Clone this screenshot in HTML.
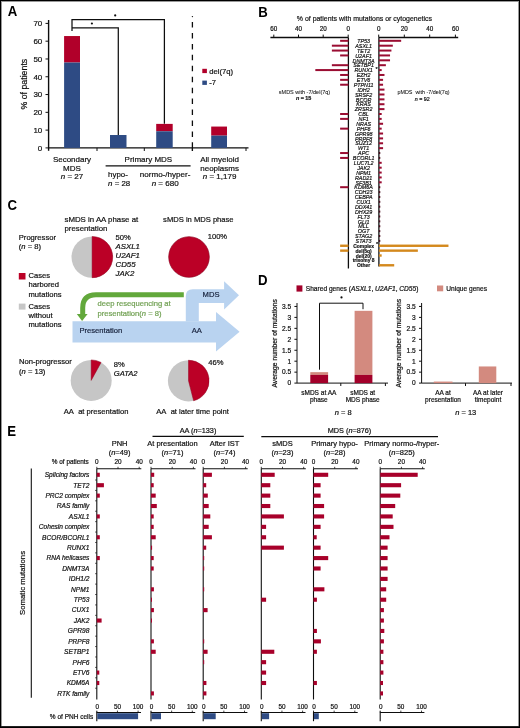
<!DOCTYPE html>
<html><head><meta charset="utf-8"><title>Figure</title>
<style>
html,body{margin:0;padding:0;background:#fff;}
#fig{position:relative;width:520px;height:728px;overflow:hidden;background:#fff;}
#fig svg{position:absolute;left:0;top:0;}
text{font-family:"Liberation Sans", sans-serif;}
</style></head>
<body><div id="fig">
<svg width="520" height="728" viewBox="0 0 520 728" font-family='"Liberation Sans", sans-serif' fill="#111">
<defs><filter id="soft" x="0" y="0" width="100%" height="100%" filterUnits="userSpaceOnUse"><feGaussianBlur stdDeviation="0.5"/></filter></defs>
<rect x="0" y="0" width="520" height="728" fill="#fff"/>
<g filter="url(#soft)">
<rect x="0" y="0" width="520" height="728" fill="#fff"/>
<text transform="translate(7.8,16.2) scale(0.93,1)" font-size="14.2" font-weight="bold" fill="#000">A</text>
<line x1="48.6" y1="20" x2="48.6" y2="150.8" stroke="#111" stroke-width="1.4"/>
<line x1="45.5" y1="147.9" x2="48.5" y2="147.9" stroke="#111" stroke-width="1"/>
<text x="42.3" y="150.74" font-size="8" text-anchor="end" stroke="#111" stroke-width="0.2">0</text>
<line x1="45.5" y1="130.11" x2="48.5" y2="130.11" stroke="#111" stroke-width="1"/>
<text x="42.3" y="132.95" font-size="8" text-anchor="end" stroke="#111" stroke-width="0.2">10</text>
<line x1="45.5" y1="112.33" x2="48.5" y2="112.33" stroke="#111" stroke-width="1"/>
<text x="42.3" y="115.17" font-size="8" text-anchor="end" stroke="#111" stroke-width="0.2">20</text>
<line x1="45.5" y1="94.54" x2="48.5" y2="94.54" stroke="#111" stroke-width="1"/>
<text x="42.3" y="97.38" font-size="8" text-anchor="end" stroke="#111" stroke-width="0.2">30</text>
<line x1="45.5" y1="76.76" x2="48.5" y2="76.76" stroke="#111" stroke-width="1"/>
<text x="42.3" y="79.6" font-size="8" text-anchor="end" stroke="#111" stroke-width="0.2">40</text>
<line x1="45.5" y1="58.97" x2="48.5" y2="58.97" stroke="#111" stroke-width="1"/>
<text x="42.3" y="61.81" font-size="8" text-anchor="end" stroke="#111" stroke-width="0.2">50</text>
<line x1="45.5" y1="41.18" x2="48.5" y2="41.18" stroke="#111" stroke-width="1"/>
<text x="42.3" y="44.02" font-size="8" text-anchor="end" stroke="#111" stroke-width="0.2">60</text>
<line x1="45.5" y1="23.4" x2="48.5" y2="23.4" stroke="#111" stroke-width="1"/>
<text x="42.3" y="26.24" font-size="8" text-anchor="end" stroke="#111" stroke-width="0.2">70</text>
<line x1="48.5" y1="147.9" x2="248.5" y2="147.9" stroke="#111" stroke-width="1.4"/>
<line x1="97" y1="147.9" x2="97" y2="151" stroke="#111" stroke-width="1"/>
<line x1="144.3" y1="147.9" x2="144.3" y2="151" stroke="#111" stroke-width="1"/>
<line x1="192.4" y1="147.9" x2="192.4" y2="151" stroke="#111" stroke-width="1"/>
<line x1="246" y1="147.9" x2="246" y2="151" stroke="#111" stroke-width="1"/>
<text transform="translate(27.4,84.2) rotate(-90)" font-size="8.8" text-anchor="middle" fill="#111" stroke="#111" stroke-width="0.2">% of patients</text>
<rect x="64.1" y="36.03" width="15.9" height="26.5" fill="#b10029"/>
<rect x="64.1" y="62.53" width="15.9" height="85.37" fill="#2e4c84"/>
<rect x="110" y="135.01" width="16.5" height="0" fill="#b10029"/>
<rect x="110" y="135.01" width="16.5" height="12.89" fill="#2e4c84"/>
<rect x="156.2" y="123.89" width="16.5" height="7.38" fill="#b10029"/>
<rect x="156.2" y="131.27" width="16.5" height="16.63" fill="#2e4c84"/>
<rect x="211.2" y="126.56" width="15.8" height="9.07" fill="#b10029"/>
<rect x="211.2" y="135.63" width="15.8" height="12.27" fill="#2e4c84"/>
<path d="M72 31 V19.5 H164.4 V123.8 M72 27.8 H118.3 V135" fill="none" stroke="#111" stroke-width="1.25"/>
<circle cx="115.2" cy="15.4" r="1.1" fill="#111"/><circle cx="91.9" cy="23.5" r="1.1" fill="#111"/>
<circle cx="192.4" cy="16.6" r="0.7" fill="#111"/>
<path d="M192.4 22 v5.5 M192.4 32.94 v5.5 M192.4 43.88 v5.5 M192.4 54.82 v5.5 M192.4 65.76 v5.5 M192.4 76.7 v5.5 M192.4 87.64 v5.5 M192.4 98.58 v5.5 M192.4 109.52 v5.5 M192.4 120.46 v5.5 M192.4 131.4 v5.5 M192.4 142.3 V151" stroke="#111" stroke-width="1.3" fill="none"/>
<rect x="202.3" y="68.8" width="4.6" height="4.3" fill="#b10029"/>
<rect x="202.3" y="80.6" width="4.6" height="4.3" fill="#2e4c84"/>
<text x="209.2" y="73.73" font-size="7.7" stroke="#111" stroke-width="0.2">del(7q)</text>
<text x="209.2" y="85.33" font-size="7.7" stroke="#111" stroke-width="0.2">-7</text>
<text x="72" y="161.84" font-size="8" text-anchor="middle" stroke="#111" stroke-width="0.2">Secondary</text>
<text x="72" y="170.64" font-size="8" text-anchor="middle" stroke="#111" stroke-width="0.2">MDS</text>
<text x="72" y="179.44" font-size="8" text-anchor="middle" stroke="#111" stroke-width="0.2"><tspan font-style="italic">n</tspan> = 27</text>
<text x="148.4" y="161.64" font-size="8" text-anchor="middle" stroke="#111" stroke-width="0.2">Primary MDS</text>
<line x1="105.6" y1="165.8" x2="190.6" y2="165.8" stroke="#111" stroke-width="1.2"/>
<text x="108.1" y="177.2" font-size="7.9" stroke="#111" stroke-width="0.2">hypo-</text>
<text x="108.1" y="186" font-size="7.9" stroke="#111" stroke-width="0.2"><tspan font-style="italic">n</tspan> = 28</text>
<text x="165.1" y="177.26" font-size="8.05" text-anchor="middle" stroke="#111" stroke-width="0.2">normo-/hyper-</text>
<text x="165.2" y="186.06" font-size="8.05" text-anchor="middle" stroke="#111" stroke-width="0.2"><tspan font-style="italic">n</tspan> = 680</text>
<text x="219.6" y="161.64" font-size="8" text-anchor="middle" stroke="#111" stroke-width="0.2">All myeloid</text>
<text x="219.6" y="170.64" font-size="8" text-anchor="middle" stroke="#111" stroke-width="0.2">neoplasms</text>
<text x="219.6" y="179.44" font-size="8" text-anchor="middle" stroke="#111" stroke-width="0.2"><tspan font-style="italic">n</tspan> = 1,179</text>
<text transform="translate(258.14,16.5) scale(0.93,1)" font-size="14.2" font-weight="bold" fill="#000">B</text>
<text transform="translate(296.8,21.1) scale(0.88,1)" font-size="7.9" stroke="#111" stroke-width="0.2">% of patients with mutations or cytogenetics</text>
<line x1="270.4" y1="37.6" x2="348.4" y2="37.6" stroke="#111" stroke-width="1.5"/>
<line x1="378.9" y1="37.6" x2="458.2" y2="37.6" stroke="#111" stroke-width="1.5"/>
<line x1="273.8" y1="34.6" x2="273.8" y2="37.6" stroke="#111" stroke-width="1"/>
<text x="273.8" y="31.44" font-size="6.3" text-anchor="middle" stroke="#111" stroke-width="0.2">60</text>
<line x1="298.5" y1="34.6" x2="298.5" y2="37.6" stroke="#111" stroke-width="1"/>
<text x="298.5" y="31.44" font-size="6.3" text-anchor="middle" stroke="#111" stroke-width="0.2">40</text>
<line x1="323.2" y1="34.6" x2="323.2" y2="37.6" stroke="#111" stroke-width="1"/>
<text x="323.2" y="31.44" font-size="6.3" text-anchor="middle" stroke="#111" stroke-width="0.2">20</text>
<line x1="348.2" y1="34.6" x2="348.2" y2="37.6" stroke="#111" stroke-width="1"/>
<text x="348.2" y="31.44" font-size="6.3" text-anchor="middle" stroke="#111" stroke-width="0.2">0</text>
<line x1="378.7" y1="34.6" x2="378.7" y2="37.6" stroke="#111" stroke-width="1"/>
<text x="378.7" y="31.44" font-size="6.3" text-anchor="middle" stroke="#111" stroke-width="0.2">0</text>
<line x1="404.3" y1="34.6" x2="404.3" y2="37.6" stroke="#111" stroke-width="1"/>
<text x="404.3" y="31.44" font-size="6.3" text-anchor="middle" stroke="#111" stroke-width="0.2">20</text>
<line x1="429.7" y1="34.6" x2="429.7" y2="37.6" stroke="#111" stroke-width="1"/>
<text x="429.7" y="31.44" font-size="6.3" text-anchor="middle" stroke="#111" stroke-width="0.2">40</text>
<line x1="455.4" y1="34.6" x2="455.4" y2="37.6" stroke="#111" stroke-width="1"/>
<text x="455.4" y="31.44" font-size="6.3" text-anchor="middle" stroke="#111" stroke-width="0.2">60</text>
<line x1="348.4" y1="37.6" x2="348.4" y2="268.5" stroke="#111" stroke-width="1.3"/>
<line x1="378.9" y1="37.6" x2="378.9" y2="266.5" stroke="#111" stroke-width="1.3"/>
<rect x="340.13" y="39.8" width="8.27" height="2" fill="#9a0a30"/>
<rect x="331.87" y="44.68" width="16.53" height="2" fill="#9a0a30"/>
<rect x="331.87" y="49.56" width="16.53" height="2" fill="#9a0a30"/>
<rect x="340.13" y="54.44" width="8.27" height="2" fill="#9a0a30"/>
<rect x="331.87" y="64.2" width="16.53" height="2" fill="#9a0a30"/>
<rect x="315.33" y="69.08" width="33.07" height="2" fill="#9a0a30"/>
<rect x="340.13" y="73.96" width="8.27" height="2" fill="#9a0a30"/>
<rect x="340.13" y="78.84" width="8.27" height="2" fill="#9a0a30"/>
<rect x="340.13" y="83.72" width="8.27" height="2" fill="#9a0a30"/>
<rect x="340.13" y="113" width="8.27" height="2" fill="#9a0a30"/>
<rect x="340.13" y="117.88" width="8.27" height="2" fill="#9a0a30"/>
<rect x="340.13" y="127.64" width="8.27" height="2" fill="#9a0a30"/>
<rect x="340.13" y="152.04" width="8.27" height="2" fill="#9a0a30"/>
<rect x="340.13" y="156.92" width="8.27" height="2" fill="#9a0a30"/>
<rect x="340.13" y="186.2" width="8.27" height="2" fill="#9a0a30"/>
<rect x="340.13" y="244.56" width="8.27" height="2.4" fill="#d4891f"/>
<rect x="340.13" y="249.44" width="8.27" height="2.4" fill="#d4891f"/>
<rect x="378.9" y="39.8" width="22.26" height="2" fill="#9a0a30"/>
<rect x="378.9" y="44.68" width="13.91" height="2" fill="#9a0a30"/>
<rect x="378.9" y="49.56" width="12.52" height="2" fill="#9a0a30"/>
<rect x="378.9" y="54.44" width="11.13" height="2" fill="#9a0a30"/>
<rect x="378.9" y="59.32" width="11.13" height="2" fill="#9a0a30"/>
<rect x="378.9" y="64.2" width="6.96" height="2" fill="#9a0a30"/>
<rect x="378.9" y="69.08" width="2.78" height="2" fill="#9a0a30"/>
<rect x="378.9" y="73.96" width="5.57" height="2" fill="#9a0a30"/>
<rect x="378.9" y="78.84" width="4.17" height="2" fill="#9a0a30"/>
<rect x="378.9" y="83.72" width="4.17" height="2" fill="#9a0a30"/>
<rect x="378.9" y="88.6" width="5.57" height="2" fill="#9a0a30"/>
<rect x="378.9" y="93.48" width="5.57" height="2" fill="#9a0a30"/>
<rect x="378.9" y="98.36" width="5.57" height="2" fill="#9a0a30"/>
<rect x="378.9" y="103.24" width="5.57" height="2" fill="#9a0a30"/>
<rect x="378.9" y="108.12" width="5.57" height="2" fill="#9a0a30"/>
<rect x="378.9" y="113" width="2.78" height="2" fill="#9a0a30"/>
<rect x="378.9" y="117.88" width="2.78" height="2" fill="#9a0a30"/>
<rect x="378.9" y="122.76" width="4.17" height="2" fill="#9a0a30"/>
<rect x="378.9" y="127.64" width="2.78" height="2" fill="#9a0a30"/>
<rect x="378.9" y="132.52" width="4.17" height="2" fill="#9a0a30"/>
<rect x="378.9" y="137.4" width="4.17" height="2" fill="#9a0a30"/>
<rect x="378.9" y="142.28" width="4.17" height="2" fill="#9a0a30"/>
<rect x="378.9" y="147.16" width="4.17" height="2" fill="#9a0a30"/>
<rect x="378.9" y="152.04" width="1.39" height="2" fill="#4a0c1c"/>
<rect x="378.9" y="156.92" width="1.39" height="2" fill="#4a0c1c"/>
<rect x="378.9" y="161.8" width="2.78" height="2" fill="#9a0a30"/>
<rect x="378.9" y="166.68" width="2.78" height="2" fill="#9a0a30"/>
<rect x="378.9" y="171.56" width="2.78" height="2" fill="#9a0a30"/>
<rect x="378.9" y="176.44" width="2.78" height="2" fill="#9a0a30"/>
<rect x="378.9" y="181.32" width="2.78" height="2" fill="#9a0a30"/>
<rect x="378.9" y="244.56" width="69.57" height="2.4" fill="#d4891f"/>
<rect x="378.9" y="249.44" width="38.96" height="2.4" fill="#d4891f"/>
<rect x="378.9" y="254.32" width="2.78" height="2.4" fill="#d4891f"/>
<rect x="378.9" y="264.08" width="15.3" height="2.4" fill="#d4891f"/>
<rect x="378.9" y="186.2" width="1.39" height="2" fill="#4a0c1c"/>
<rect x="378.9" y="191.08" width="1.39" height="2" fill="#4a0c1c"/>
<rect x="378.9" y="195.96" width="1.39" height="2" fill="#4a0c1c"/>
<rect x="378.9" y="200.84" width="1.39" height="2" fill="#4a0c1c"/>
<rect x="378.9" y="205.72" width="1.39" height="2" fill="#4a0c1c"/>
<rect x="378.9" y="210.6" width="1.39" height="2" fill="#4a0c1c"/>
<rect x="378.9" y="215.48" width="1.39" height="2" fill="#4a0c1c"/>
<rect x="378.9" y="220.36" width="1.39" height="2" fill="#4a0c1c"/>
<rect x="378.9" y="225.24" width="1.39" height="2" fill="#4a0c1c"/>
<rect x="378.9" y="230.12" width="1.39" height="2" fill="#4a0c1c"/>
<rect x="378.9" y="235" width="1.39" height="2" fill="#4a0c1c"/>
<rect x="378.9" y="239.88" width="1.39" height="2" fill="#4a0c1c"/>
<text transform="translate(363.6,43) scale(0.87,1)" font-size="6.2" text-anchor="middle" font-style="italic" stroke="#111" stroke-width="0.2">TP53</text>
<text transform="translate(363.6,47.88) scale(0.87,1)" font-size="6.2" text-anchor="middle" font-style="italic" stroke="#111" stroke-width="0.2">ASXL1</text>
<text transform="translate(363.6,52.76) scale(0.87,1)" font-size="6.2" text-anchor="middle" font-style="italic" stroke="#111" stroke-width="0.2">TET2</text>
<text transform="translate(363.6,57.64) scale(0.87,1)" font-size="6.2" text-anchor="middle" font-style="italic" stroke="#111" stroke-width="0.2">U2AF1</text>
<text transform="translate(363.6,62.52) scale(0.87,1)" font-size="6.2" text-anchor="middle" font-style="italic" stroke="#111" stroke-width="0.2">DNMT3A</text>
<text transform="translate(363.6,67.4) scale(0.87,1)" font-size="6.2" text-anchor="middle" font-style="italic" stroke="#111" stroke-width="0.2">SETBP1</text>
<text transform="translate(363.6,72.28) scale(0.87,1)" font-size="6.2" text-anchor="middle" font-style="italic" stroke="#111" stroke-width="0.2">RUNX1</text>
<text transform="translate(363.6,77.16) scale(0.87,1)" font-size="6.2" text-anchor="middle" font-style="italic" stroke="#111" stroke-width="0.2">EZH2</text>
<text transform="translate(363.6,82.04) scale(0.87,1)" font-size="6.2" text-anchor="middle" font-style="italic" stroke="#111" stroke-width="0.2">ETV6</text>
<text transform="translate(363.6,86.92) scale(0.87,1)" font-size="6.2" text-anchor="middle" font-style="italic" stroke="#111" stroke-width="0.2">PTPN11</text>
<text transform="translate(363.6,91.8) scale(0.87,1)" font-size="6.2" text-anchor="middle" font-style="italic" stroke="#111" stroke-width="0.2">IDH2</text>
<text transform="translate(363.6,96.68) scale(0.87,1)" font-size="6.2" text-anchor="middle" font-style="italic" stroke="#111" stroke-width="0.2">SRSF2</text>
<text transform="translate(363.6,101.56) scale(0.87,1)" font-size="6.2" text-anchor="middle" font-style="italic" stroke="#111" stroke-width="0.2">BCOR</text>
<text transform="translate(363.6,106.44) scale(0.87,1)" font-size="6.2" text-anchor="middle" font-style="italic" stroke="#111" stroke-width="0.2">KRAS</text>
<text transform="translate(363.6,111.32) scale(0.87,1)" font-size="6.2" text-anchor="middle" font-style="italic" stroke="#111" stroke-width="0.2">ZRSR2</text>
<text transform="translate(363.6,116.2) scale(0.87,1)" font-size="6.2" text-anchor="middle" font-style="italic" stroke="#111" stroke-width="0.2">CBL</text>
<text transform="translate(363.6,121.08) scale(0.87,1)" font-size="6.2" text-anchor="middle" font-style="italic" stroke="#111" stroke-width="0.2">NF1</text>
<text transform="translate(363.6,125.96) scale(0.87,1)" font-size="6.2" text-anchor="middle" font-style="italic" stroke="#111" stroke-width="0.2">NRAS</text>
<text transform="translate(363.6,130.84) scale(0.87,1)" font-size="6.2" text-anchor="middle" font-style="italic" stroke="#111" stroke-width="0.2">PHF6</text>
<text transform="translate(363.6,135.72) scale(0.87,1)" font-size="6.2" text-anchor="middle" font-style="italic" stroke="#111" stroke-width="0.2">GPR98</text>
<text transform="translate(363.6,140.6) scale(0.87,1)" font-size="6.2" text-anchor="middle" font-style="italic" stroke="#111" stroke-width="0.2">PRPF8</text>
<text transform="translate(363.6,145.48) scale(0.87,1)" font-size="6.2" text-anchor="middle" font-style="italic" stroke="#111" stroke-width="0.2">SUZ12</text>
<text transform="translate(363.6,150.36) scale(0.87,1)" font-size="6.2" text-anchor="middle" font-style="italic" stroke="#111" stroke-width="0.2">WT1</text>
<text transform="translate(363.6,155.24) scale(0.87,1)" font-size="6.2" text-anchor="middle" font-style="italic" stroke="#111" stroke-width="0.2">APC</text>
<text transform="translate(363.6,160.12) scale(0.87,1)" font-size="6.2" text-anchor="middle" font-style="italic" stroke="#111" stroke-width="0.2">BCORL1</text>
<text transform="translate(363.6,165) scale(0.87,1)" font-size="6.2" text-anchor="middle" font-style="italic" stroke="#111" stroke-width="0.2">LUC7L2</text>
<text transform="translate(363.6,169.88) scale(0.87,1)" font-size="6.2" text-anchor="middle" font-style="italic" stroke="#111" stroke-width="0.2">JAK2</text>
<text transform="translate(363.6,174.76) scale(0.87,1)" font-size="6.2" text-anchor="middle" font-style="italic" stroke="#111" stroke-width="0.2">NPM1</text>
<text transform="translate(363.6,179.64) scale(0.87,1)" font-size="6.2" text-anchor="middle" font-style="italic" stroke="#111" stroke-width="0.2">RAD21</text>
<text transform="translate(363.6,184.52) scale(0.87,1)" font-size="6.2" text-anchor="middle" font-style="italic" stroke="#111" stroke-width="0.2">SF3B1</text>
<text transform="translate(363.6,189.4) scale(0.87,1)" font-size="6.2" text-anchor="middle" font-style="italic" stroke="#111" stroke-width="0.2">KDM6A</text>
<text transform="translate(363.6,194.28) scale(0.87,1)" font-size="6.2" text-anchor="middle" font-style="italic" stroke="#111" stroke-width="0.2">CDH23</text>
<text transform="translate(363.6,199.16) scale(0.87,1)" font-size="6.2" text-anchor="middle" font-style="italic" stroke="#111" stroke-width="0.2">CEBPA</text>
<text transform="translate(363.6,204.04) scale(0.87,1)" font-size="6.2" text-anchor="middle" font-style="italic" stroke="#111" stroke-width="0.2">CUX1</text>
<text transform="translate(363.6,208.92) scale(0.87,1)" font-size="6.2" text-anchor="middle" font-style="italic" stroke="#111" stroke-width="0.2">DDX41</text>
<text transform="translate(363.6,213.8) scale(0.87,1)" font-size="6.2" text-anchor="middle" font-style="italic" stroke="#111" stroke-width="0.2">DHX29</text>
<text transform="translate(363.6,218.68) scale(0.87,1)" font-size="6.2" text-anchor="middle" font-style="italic" stroke="#111" stroke-width="0.2">FLT3</text>
<text transform="translate(363.6,223.56) scale(0.87,1)" font-size="6.2" text-anchor="middle" font-style="italic" stroke="#111" stroke-width="0.2">GLI1</text>
<text transform="translate(363.6,228.44) scale(0.87,1)" font-size="6.2" text-anchor="middle" font-style="italic" stroke="#111" stroke-width="0.2">MLL</text>
<text transform="translate(363.6,233.32) scale(0.87,1)" font-size="6.2" text-anchor="middle" font-style="italic" stroke="#111" stroke-width="0.2">OGT</text>
<text transform="translate(363.6,238.2) scale(0.87,1)" font-size="6.2" text-anchor="middle" font-style="italic" stroke="#111" stroke-width="0.2">STAG2</text>
<text transform="translate(363.6,243.08) scale(0.87,1)" font-size="6.2" text-anchor="middle" font-style="italic" stroke="#111" stroke-width="0.2">STAT3</text>
<text transform="translate(363.6,247.75) scale(0.88,1)" font-size="5.6" text-anchor="middle" font-weight="bold" stroke="#111" stroke-width="0.2">Complex</text>
<text transform="translate(363.6,252.63) scale(0.88,1)" font-size="5.6" text-anchor="middle" font-weight="bold" stroke="#111" stroke-width="0.2">del(5q)</text>
<text transform="translate(363.6,257.51) scale(0.88,1)" font-size="5.6" text-anchor="middle" font-weight="bold" stroke="#111" stroke-width="0.2">del(20)</text>
<text transform="translate(363.6,262.39) scale(0.88,1)" font-size="5.6" text-anchor="middle" font-weight="bold" stroke="#111" stroke-width="0.2">trisomy 8</text>
<text transform="translate(363.6,267.27) scale(0.88,1)" font-size="5.6" text-anchor="middle" font-weight="bold" stroke="#111" stroke-width="0.2">Other</text>
<text x="375.4" y="70.55" font-size="5.5" stroke="#111" stroke-width="0.2">*</text>
<text x="376" y="246.15" font-size="5.5" stroke="#111" stroke-width="0.2">*</text>
<text x="304.5" y="94.05" font-size="5.5" text-anchor="middle" stroke="#111" stroke-width="0.05">sMDS with -7/del(7q)</text>
<text x="303.6" y="100.32" font-size="5.4" text-anchor="middle" font-weight="bold" stroke="#111" stroke-width="0.2"><tspan font-style="italic">n</tspan> = 15</text>
<text x="423.5" y="94.02" font-size="5.4" text-anchor="middle" stroke="#111" stroke-width="0.05">pMDS&#160; with -7/del(7q)</text>
<text x="422.3" y="100.52" font-size="5.4" text-anchor="middle" stroke="#111" stroke-width="0.2"><tspan font-style="italic">n</tspan> = 92</text>
<text transform="translate(7.52,210.3) scale(0.93,1)" font-size="14.2" font-weight="bold" fill="#000">C</text>
<text x="64.5" y="222.19" font-size="7.85" stroke="#111" stroke-width="0.2">sMDS in AA phase at</text>
<text x="64.5" y="230.77" font-size="7.8" stroke="#111" stroke-width="0.2">presentation</text>
<text x="163.1" y="222.1" font-size="7.6" stroke="#111" stroke-width="0.2">sMDS in MDS phase</text>
<text x="18.8" y="240" font-size="7.6" stroke="#111" stroke-width="0.2">Progressor</text>
<text x="18.8" y="249.4" font-size="7.6" stroke="#111" stroke-width="0.2">(<tspan font-style="italic">n</tspan> = 8)</text>
<circle cx="92.1" cy="257.1" r="20.6" fill="#c6c6c6"/>
<path d="M92.1 257.1 L92.1 236.5 A20.6 20.6 0 0 1 92.1 277.7 Z" fill="#bb0028" stroke="#960420" stroke-width="0.5" stroke-linejoin="round"/>
<circle cx="189" cy="257" r="20.5" fill="#c6c6c6"/>
<circle cx="189" cy="257" r="20.3" fill="#bb0028" stroke="#960420" stroke-width="0.6"/>
<circle cx="91.2" cy="380.4" r="20.5" fill="#c6c6c6"/>
<path d="M91.2 380.4 L91.2 359.9 A20.5 20.5 0 0 1 101.08 362.44 Z" fill="#bb0028" stroke="#960420" stroke-width="0.5" stroke-linejoin="round"/>
<circle cx="188.5" cy="380.8" r="20.6" fill="#c6c6c6"/>
<path d="M188.5 380.8 L188.5 360.2 A20.6 20.6 0 0 1 193.62 400.75 Z" fill="#bb0028" stroke="#960420" stroke-width="0.5" stroke-linejoin="round"/>
<text x="115.5" y="239.6" font-size="7.6" stroke="#111" stroke-width="0.2">50%</text>
<text x="115.5" y="248.79" font-size="7.85" font-style="italic" stroke="#111" stroke-width="0.2">ASXL1</text>
<text x="115.5" y="257.99" font-size="7.85" font-style="italic" stroke="#111" stroke-width="0.2">U2AF1</text>
<text x="115.5" y="267.19" font-size="7.85" font-style="italic" stroke="#111" stroke-width="0.2">CD55</text>
<text x="115.5" y="276.39" font-size="7.85" font-style="italic" stroke="#111" stroke-width="0.2">JAK2</text>
<text x="207.7" y="238.8" font-size="7.6" stroke="#111" stroke-width="0.2">100%</text>
<rect x="18.8" y="273" width="6.7" height="6.5" fill="#bb0028"/>
<rect x="18.8" y="303.6" width="6.7" height="6" fill="#c6c6c6"/>
<text x="28.5" y="278.1" font-size="7.6" stroke="#111" stroke-width="0.2">Cases</text>
<text x="28.5" y="287.45" font-size="7.6" stroke="#111" stroke-width="0.2">harbored</text>
<text x="28.5" y="296.8" font-size="7.6" stroke="#111" stroke-width="0.2">mutations</text>
<text x="28.5" y="308.6" font-size="7.6" stroke="#111" stroke-width="0.2">Cases</text>
<text x="28.5" y="317.8" font-size="7.6" stroke="#111" stroke-width="0.2">without</text>
<text x="28.5" y="327" font-size="7.6" stroke="#111" stroke-width="0.2">mutations</text>
<path d="M72.5 321.3 H216 V312.1 L239.6 331.8 L216 351.6 V342.4 H72.5 Z" fill="#b9d3f0"/>
<path d="M185.8 321.5 V296.2 Q185.8 289.2 192.8 289.2 H224.1 V281.2 L239 295.3 L224.1 309.4 V303 H198.8 V321.5 Z" fill="#b9d3f0"/>
<text x="202.6" y="297.1" font-size="7.6" fill="#17223c" stroke="#17223c" stroke-width="0.2">MDS</text>
<text x="191.8" y="332.8" font-size="7.6" fill="#17223c" stroke="#17223c" stroke-width="0.2">AA</text>
<text x="79.5" y="333.1" font-size="7.6" fill="#17223c" stroke="#17223c" stroke-width="0.2">Presentation</text>
<path d="M183.8 294.8 H96 Q82.7 294.8 82.7 308 V314.5" fill="none" stroke="#62a83a" stroke-width="5"/>
<path d="M76.8 314 H87.6 L82.1 321 Z" fill="#62a83a"/>
<text x="97.5" y="306.3" font-size="7.6" fill="#70a052" stroke="#70a052" stroke-width="0.2">deep resequencing at</text>
<text x="97.5" y="315.6" font-size="7.6" fill="#70a052" stroke="#70a052" stroke-width="0.2">presentation(<tspan font-style="italic">n</tspan> = 8)</text>
<text x="19" y="364.4" font-size="7.6" stroke="#111" stroke-width="0.2">Non-progressor</text>
<text x="19" y="373.8" font-size="7.6" stroke="#111" stroke-width="0.2">(<tspan font-style="italic">n</tspan> = 13)</text>
<text x="113.8" y="366.8" font-size="7.6" stroke="#111" stroke-width="0.2">8%</text>
<text x="113.8" y="376" font-size="7.6" font-style="italic" stroke="#111" stroke-width="0.2">GATA2</text>
<text x="208.3" y="365.4" font-size="7.6" stroke="#111" stroke-width="0.2">46%</text>
<text x="63.8" y="414.3" font-size="7.6" stroke="#111" stroke-width="0.2">AA&#160; at presentation</text>
<text x="156.3" y="413.7" font-size="7.6" stroke="#111" stroke-width="0.2">AA&#160; at later time point</text>
<text transform="translate(257.94,284.9) scale(0.93,1)" font-size="14.2" font-weight="bold" fill="#000">D</text>
<rect x="296.5" y="285.4" width="5.9" height="6.2" fill="#a3002a"/>
<text x="305.8" y="290.84" font-size="6.6" stroke="#111" stroke-width="0.2">Shared genes (<tspan font-style="italic">ASXL1</tspan>, <tspan font-style="italic">U2AF1</tspan>, <tspan font-style="italic">CD55</tspan>)</text>
<rect x="437" y="285.5" width="6.2" height="5.8" fill="#d38a7f"/>
<text x="446.3" y="291.04" font-size="6.6" stroke="#111" stroke-width="0.2">Unique genes</text>
<line x1="297" y1="303" x2="297" y2="383.1" stroke="#111" stroke-width="1"/>
<line x1="294.4" y1="383.1" x2="297" y2="383.1" stroke="#111" stroke-width="1"/>
<text x="291.1" y="385.44" font-size="6.6" text-anchor="end" stroke="#111" stroke-width="0.2">0</text>
<line x1="294.4" y1="372.15" x2="297" y2="372.15" stroke="#111" stroke-width="1"/>
<text x="291.1" y="374.49" font-size="6.6" text-anchor="end" stroke="#111" stroke-width="0.2">0.5</text>
<line x1="294.4" y1="361.2" x2="297" y2="361.2" stroke="#111" stroke-width="1"/>
<text x="291.1" y="363.54" font-size="6.6" text-anchor="end" stroke="#111" stroke-width="0.2">1</text>
<line x1="294.4" y1="350.25" x2="297" y2="350.25" stroke="#111" stroke-width="1"/>
<text x="291.1" y="352.59" font-size="6.6" text-anchor="end" stroke="#111" stroke-width="0.2">1.5</text>
<line x1="294.4" y1="339.3" x2="297" y2="339.3" stroke="#111" stroke-width="1"/>
<text x="291.1" y="341.64" font-size="6.6" text-anchor="end" stroke="#111" stroke-width="0.2">2</text>
<line x1="294.4" y1="328.35" x2="297" y2="328.35" stroke="#111" stroke-width="1"/>
<text x="291.1" y="330.69" font-size="6.6" text-anchor="end" stroke="#111" stroke-width="0.2">2.5</text>
<line x1="294.4" y1="317.4" x2="297" y2="317.4" stroke="#111" stroke-width="1"/>
<text x="291.1" y="319.74" font-size="6.6" text-anchor="end" stroke="#111" stroke-width="0.2">3</text>
<line x1="294.4" y1="306.45" x2="297" y2="306.45" stroke="#111" stroke-width="1"/>
<text x="291.1" y="308.79" font-size="6.6" text-anchor="end" stroke="#111" stroke-width="0.2">3.5</text>
<line x1="421.6" y1="303" x2="421.6" y2="383.1" stroke="#111" stroke-width="1"/>
<line x1="419" y1="383.1" x2="421.6" y2="383.1" stroke="#111" stroke-width="1"/>
<text x="415.7" y="385.44" font-size="6.6" text-anchor="end" stroke="#111" stroke-width="0.2">0</text>
<line x1="419" y1="372.15" x2="421.6" y2="372.15" stroke="#111" stroke-width="1"/>
<text x="415.7" y="374.49" font-size="6.6" text-anchor="end" stroke="#111" stroke-width="0.2">0.5</text>
<line x1="419" y1="361.2" x2="421.6" y2="361.2" stroke="#111" stroke-width="1"/>
<text x="415.7" y="363.54" font-size="6.6" text-anchor="end" stroke="#111" stroke-width="0.2">1</text>
<line x1="419" y1="350.25" x2="421.6" y2="350.25" stroke="#111" stroke-width="1"/>
<text x="415.7" y="352.59" font-size="6.6" text-anchor="end" stroke="#111" stroke-width="0.2">1.5</text>
<line x1="419" y1="339.3" x2="421.6" y2="339.3" stroke="#111" stroke-width="1"/>
<text x="415.7" y="341.64" font-size="6.6" text-anchor="end" stroke="#111" stroke-width="0.2">2</text>
<line x1="419" y1="328.35" x2="421.6" y2="328.35" stroke="#111" stroke-width="1"/>
<text x="415.7" y="330.69" font-size="6.6" text-anchor="end" stroke="#111" stroke-width="0.2">2.5</text>
<line x1="419" y1="317.4" x2="421.6" y2="317.4" stroke="#111" stroke-width="1"/>
<text x="415.7" y="319.74" font-size="6.6" text-anchor="end" stroke="#111" stroke-width="0.2">3</text>
<line x1="419" y1="306.45" x2="421.6" y2="306.45" stroke="#111" stroke-width="1"/>
<text x="415.7" y="308.79" font-size="6.6" text-anchor="end" stroke="#111" stroke-width="0.2">3.5</text>
<line x1="297" y1="383.1" x2="388" y2="383.1" stroke="#111" stroke-width="1"/>
<line x1="340.8" y1="383.1" x2="340.8" y2="386" stroke="#111" stroke-width="1"/>
<line x1="385.4" y1="383.1" x2="385.4" y2="386" stroke="#111" stroke-width="1"/>
<line x1="421.6" y1="383.1" x2="512" y2="383.1" stroke="#111" stroke-width="1"/>
<line x1="465.5" y1="383.1" x2="465.5" y2="386" stroke="#111" stroke-width="1"/>
<line x1="511" y1="383.1" x2="511" y2="386" stroke="#111" stroke-width="1"/>
<text transform="translate(276.9,343.3) rotate(-90)" font-size="6.75" text-anchor="middle" fill="#111" stroke="#111" stroke-width="0.2">Average number of mutations</text>
<text transform="translate(401.3,343.2) rotate(-90)" font-size="6.75" text-anchor="middle" fill="#111" stroke="#111" stroke-width="0.2">Average number of mutations</text>
<rect x="310.3" y="372.15" width="17.8" height="2.74" fill="#d38a7f"/>
<rect x="310.3" y="374.89" width="17.8" height="8.21" fill="#a3002a"/>
<rect x="354.6" y="310.83" width="17.8" height="64.06" fill="#d38a7f"/>
<rect x="354.6" y="374.89" width="17.8" height="8.21" fill="#a3002a"/>
<rect x="433.8" y="381.57" width="18.7" height="1.53" fill="#d38a7f"/>
<rect x="478.8" y="366.46" width="17.5" height="16.64" fill="#d38a7f"/>
<path d="M319.5 369.7 V303.2 H363 V309.2" fill="none" stroke="#111" stroke-width="1"/>
<circle cx="341.5" cy="297.4" r="1.1" fill="#111"/>
<text x="318.8" y="395.01" font-size="6.5" text-anchor="middle" stroke="#111" stroke-width="0.2">sMDS at AA</text>
<text x="318.8" y="402.31" font-size="6.5" text-anchor="middle" stroke="#111" stroke-width="0.2">phase</text>
<text x="362.7" y="395.01" font-size="6.5" text-anchor="middle" stroke="#111" stroke-width="0.2">sMDS at</text>
<text x="362.7" y="402.31" font-size="6.5" text-anchor="middle" stroke="#111" stroke-width="0.2">MDS phase</text>
<text x="443" y="395.01" font-size="6.5" text-anchor="middle" stroke="#111" stroke-width="0.2">AA at</text>
<text x="443" y="402.31" font-size="6.5" text-anchor="middle" stroke="#111" stroke-width="0.2">presentation</text>
<text x="488" y="395.01" font-size="6.5" text-anchor="middle" stroke="#111" stroke-width="0.2">AA at later</text>
<text x="488" y="402.31" font-size="6.5" text-anchor="middle" stroke="#111" stroke-width="0.2">timepoint</text>
<text x="343.2" y="414.86" font-size="7.5" text-anchor="middle" stroke="#111" stroke-width="0.2"><tspan font-style="italic">n</tspan> = 8</text>
<text x="465.7" y="414.66" font-size="7.5" text-anchor="middle" stroke="#111" stroke-width="0.2"><tspan font-style="italic">n</tspan> = 13</text>
<text transform="translate(7.14,436.4) scale(0.93,1)" font-size="14.2" font-weight="bold" fill="#000">E</text>
<text x="198" y="433.09" font-size="7.3" text-anchor="middle" stroke="#111" stroke-width="0.2">AA (<tspan font-style="italic">n</tspan>=133)</text>
<line x1="152.5" y1="436.4" x2="243.8" y2="436.4" stroke="#111" stroke-width="1.2"/>
<text x="349.5" y="433.09" font-size="7.3" text-anchor="middle" stroke="#111" stroke-width="0.2">MDS (<tspan font-style="italic">n</tspan>=876)</text>
<line x1="261.3" y1="436.6" x2="438" y2="436.6" stroke="#111" stroke-width="1.2"/>
<text x="119.6" y="445.66" font-size="7.5" text-anchor="middle" stroke="#111" stroke-width="0.2">PNH</text>
<text x="119.6" y="454.86" font-size="7.5" text-anchor="middle" stroke="#111" stroke-width="0.2">(<tspan font-style="italic">n</tspan>=49)</text>
<text x="172.5" y="445.66" font-size="7.5" text-anchor="middle" stroke="#111" stroke-width="0.2">At presentation</text>
<text x="172.5" y="454.86" font-size="7.5" text-anchor="middle" stroke="#111" stroke-width="0.2">(<tspan font-style="italic">n</tspan>=71)</text>
<text x="224.5" y="445.66" font-size="7.5" text-anchor="middle" stroke="#111" stroke-width="0.2">After IST</text>
<text x="224.5" y="454.86" font-size="7.5" text-anchor="middle" stroke="#111" stroke-width="0.2">(<tspan font-style="italic">n</tspan>=74)</text>
<text x="282.5" y="445.66" font-size="7.5" text-anchor="middle" stroke="#111" stroke-width="0.2">sMDS</text>
<text x="282.5" y="454.86" font-size="7.5" text-anchor="middle" stroke="#111" stroke-width="0.2">(<tspan font-style="italic">n</tspan>=23)</text>
<text x="334.5" y="445.66" font-size="7.5" text-anchor="middle" stroke="#111" stroke-width="0.2">Primary hypo-</text>
<text x="334.5" y="454.86" font-size="7.5" text-anchor="middle" stroke="#111" stroke-width="0.2">(<tspan font-style="italic">n</tspan>=28)</text>
<text x="401.8" y="445.66" font-size="7.5" text-anchor="middle" stroke="#111" stroke-width="0.2">Primary normo-/hyper-</text>
<text x="401.8" y="454.86" font-size="7.5" text-anchor="middle" stroke="#111" stroke-width="0.2">(<tspan font-style="italic">n</tspan>=825)</text>
<text x="88.8" y="464.47" font-size="6.4" text-anchor="end" stroke="#111" stroke-width="0.2">% of patients</text>
<text x="89.4" y="477.14" font-size="6.6" text-anchor="end" font-style="italic" stroke="#111" stroke-width="0.2">Splicing factors</text>
<text x="89.4" y="487.55" font-size="6.6" text-anchor="end" font-style="italic" stroke="#111" stroke-width="0.2">TET2</text>
<text x="89.4" y="497.96" font-size="6.6" text-anchor="end" font-style="italic" stroke="#111" stroke-width="0.2">PRC2 complex</text>
<text x="89.4" y="508.37" font-size="6.6" text-anchor="end" font-style="italic" stroke="#111" stroke-width="0.2">RAS family</text>
<text x="89.4" y="518.78" font-size="6.6" text-anchor="end" font-style="italic" stroke="#111" stroke-width="0.2">ASXL1</text>
<text x="89.4" y="529.19" font-size="6.6" text-anchor="end" font-style="italic" stroke="#111" stroke-width="0.2">Cohesin complex</text>
<text x="89.4" y="539.6" font-size="6.6" text-anchor="end" font-style="italic" stroke="#111" stroke-width="0.2">BCOR/BCORL1</text>
<text x="89.4" y="550.01" font-size="6.6" text-anchor="end" font-style="italic" stroke="#111" stroke-width="0.2">RUNX1</text>
<text x="89.4" y="560.42" font-size="6.6" text-anchor="end" font-style="italic" stroke="#111" stroke-width="0.2">RNA helicases</text>
<text x="89.4" y="570.83" font-size="6.6" text-anchor="end" font-style="italic" stroke="#111" stroke-width="0.2">DNMT3A</text>
<text x="89.4" y="581.24" font-size="6.6" text-anchor="end" font-style="italic" stroke="#111" stroke-width="0.2">IDH1/2</text>
<text x="89.4" y="591.65" font-size="6.6" text-anchor="end" font-style="italic" stroke="#111" stroke-width="0.2">NPM1</text>
<text x="89.4" y="602.06" font-size="6.6" text-anchor="end" font-style="italic" stroke="#111" stroke-width="0.2">TP53</text>
<text x="89.4" y="612.47" font-size="6.6" text-anchor="end" font-style="italic" stroke="#111" stroke-width="0.2">CUX1</text>
<text x="89.4" y="622.88" font-size="6.6" text-anchor="end" font-style="italic" stroke="#111" stroke-width="0.2">JAK2</text>
<text x="89.4" y="633.29" font-size="6.6" text-anchor="end" font-style="italic" stroke="#111" stroke-width="0.2">GPR98</text>
<text x="89.4" y="643.7" font-size="6.6" text-anchor="end" font-style="italic" stroke="#111" stroke-width="0.2">PRPF8</text>
<text x="89.4" y="654.11" font-size="6.6" text-anchor="end" font-style="italic" stroke="#111" stroke-width="0.2">SETBP1</text>
<text x="89.4" y="664.52" font-size="6.6" text-anchor="end" font-style="italic" stroke="#111" stroke-width="0.2">PHF6</text>
<text x="89.4" y="674.93" font-size="6.6" text-anchor="end" font-style="italic" stroke="#111" stroke-width="0.2">ETV6</text>
<text x="89.4" y="685.34" font-size="6.6" text-anchor="end" font-style="italic" stroke="#111" stroke-width="0.2">KDM6A</text>
<text x="89.4" y="695.75" font-size="6.6" text-anchor="end" font-style="italic" stroke="#111" stroke-width="0.2">RTK family</text>
<line x1="31.3" y1="468.5" x2="31.3" y2="697.7" stroke="#111" stroke-width="1.1"/>
<text transform="translate(25.3,583) rotate(-90)" font-size="7.8" text-anchor="middle" fill="#111" stroke="#111" stroke-width="0.2">Somatic mutations</text>
<line x1="96.8" y1="468.8" x2="141.3" y2="468.8" stroke="#111" stroke-width="1.1"/>
<line x1="96.8" y1="466.8" x2="96.8" y2="468.8" stroke="#111" stroke-width="0.8"/>
<text x="96.8" y="464.47" font-size="6.4" text-anchor="middle" stroke="#111" stroke-width="0.2">0</text>
<line x1="118" y1="466.8" x2="118" y2="468.8" stroke="#111" stroke-width="0.8"/>
<text x="118" y="464.47" font-size="6.4" text-anchor="middle" stroke="#111" stroke-width="0.2">20</text>
<line x1="139.2" y1="466.8" x2="139.2" y2="468.8" stroke="#111" stroke-width="0.8"/>
<text x="139.2" y="464.47" font-size="6.4" text-anchor="middle" stroke="#111" stroke-width="0.2">40</text>
<line x1="96.8" y1="468.8" x2="96.8" y2="699.5" stroke="#111" stroke-width="1.1"/>
<line x1="95.2" y1="480.01" x2="96.8" y2="480.01" stroke="#111" stroke-width="0.8"/>
<line x1="95.2" y1="490.42" x2="96.8" y2="490.42" stroke="#111" stroke-width="0.8"/>
<line x1="95.2" y1="500.83" x2="96.8" y2="500.83" stroke="#111" stroke-width="0.8"/>
<line x1="95.2" y1="511.24" x2="96.8" y2="511.24" stroke="#111" stroke-width="0.8"/>
<line x1="95.2" y1="521.65" x2="96.8" y2="521.65" stroke="#111" stroke-width="0.8"/>
<line x1="95.2" y1="532.06" x2="96.8" y2="532.06" stroke="#111" stroke-width="0.8"/>
<line x1="95.2" y1="542.47" x2="96.8" y2="542.47" stroke="#111" stroke-width="0.8"/>
<line x1="95.2" y1="552.88" x2="96.8" y2="552.88" stroke="#111" stroke-width="0.8"/>
<line x1="95.2" y1="563.29" x2="96.8" y2="563.29" stroke="#111" stroke-width="0.8"/>
<line x1="95.2" y1="573.7" x2="96.8" y2="573.7" stroke="#111" stroke-width="0.8"/>
<line x1="95.2" y1="584.11" x2="96.8" y2="584.11" stroke="#111" stroke-width="0.8"/>
<line x1="95.2" y1="594.52" x2="96.8" y2="594.52" stroke="#111" stroke-width="0.8"/>
<line x1="95.2" y1="604.93" x2="96.8" y2="604.93" stroke="#111" stroke-width="0.8"/>
<line x1="95.2" y1="615.34" x2="96.8" y2="615.34" stroke="#111" stroke-width="0.8"/>
<line x1="95.2" y1="625.75" x2="96.8" y2="625.75" stroke="#111" stroke-width="0.8"/>
<line x1="95.2" y1="636.16" x2="96.8" y2="636.16" stroke="#111" stroke-width="0.8"/>
<line x1="95.2" y1="646.57" x2="96.8" y2="646.57" stroke="#111" stroke-width="0.8"/>
<line x1="95.2" y1="656.98" x2="96.8" y2="656.98" stroke="#111" stroke-width="0.8"/>
<line x1="95.2" y1="667.39" x2="96.8" y2="667.39" stroke="#111" stroke-width="0.8"/>
<line x1="95.2" y1="677.8" x2="96.8" y2="677.8" stroke="#111" stroke-width="0.8"/>
<line x1="95.2" y1="688.21" x2="96.8" y2="688.21" stroke="#111" stroke-width="0.8"/>
<rect x="96.8" y="472.75" width="3" height="4.1" fill="#a8002a"/>
<rect x="96.8" y="483.16" width="7.1" height="4.1" fill="#a8002a"/>
<rect x="96.8" y="493.57" width="3" height="4.1" fill="#a8002a"/>
<rect x="96.8" y="514.39" width="3" height="4.1" fill="#a8002a"/>
<rect x="96.8" y="535.21" width="3" height="4.1" fill="#a8002a"/>
<rect x="96.8" y="556.03" width="3" height="4.1" fill="#a8002a"/>
<rect x="96.8" y="618.49" width="4.8" height="4.1" fill="#a8002a"/>
<rect x="96.8" y="670.54" width="2.5" height="4.1" fill="#a8002a"/>
<rect x="96.8" y="680.95" width="2.5" height="4.1" fill="#a8002a"/>
<text x="97.4" y="709.07" font-size="6.4" text-anchor="middle" stroke="#111" stroke-width="0.2">0</text>
<line x1="96.8" y1="710.6" x2="96.8" y2="712.5" stroke="#111" stroke-width="0.8"/>
<text x="117.45" y="709.07" font-size="6.4" text-anchor="middle" stroke="#111" stroke-width="0.2">50</text>
<line x1="117.45" y1="710.6" x2="117.45" y2="712.5" stroke="#111" stroke-width="0.8"/>
<text x="138.1" y="709.07" font-size="6.4" text-anchor="middle" stroke="#111" stroke-width="0.2">100</text>
<line x1="138.1" y1="710.6" x2="138.1" y2="712.5" stroke="#111" stroke-width="0.8"/>
<line x1="96.8" y1="712.5" x2="141" y2="712.5" stroke="#111" stroke-width="1.1"/>
<line x1="96.8" y1="711.5" x2="96.8" y2="721.2" stroke="#111" stroke-width="1.1"/>
<rect x="97.3" y="713.2" width="40.8" height="6" fill="#2e4c84"/>
<line x1="151" y1="468.8" x2="195.5" y2="468.8" stroke="#111" stroke-width="1.1"/>
<line x1="151" y1="466.8" x2="151" y2="468.8" stroke="#111" stroke-width="0.8"/>
<text x="151" y="464.47" font-size="6.4" text-anchor="middle" stroke="#111" stroke-width="0.2">0</text>
<line x1="172.2" y1="466.8" x2="172.2" y2="468.8" stroke="#111" stroke-width="0.8"/>
<text x="172.2" y="464.47" font-size="6.4" text-anchor="middle" stroke="#111" stroke-width="0.2">20</text>
<line x1="193.4" y1="466.8" x2="193.4" y2="468.8" stroke="#111" stroke-width="0.8"/>
<text x="193.4" y="464.47" font-size="6.4" text-anchor="middle" stroke="#111" stroke-width="0.2">40</text>
<line x1="151" y1="468.8" x2="151" y2="699.5" stroke="#111" stroke-width="1.1"/>
<rect x="151" y="472.75" width="3.2" height="4.1" fill="#a8002a"/>
<rect x="151" y="483.16" width="2.7" height="4.1" fill="#a8002a"/>
<rect x="151" y="493.57" width="4.7" height="4.1" fill="#a8002a"/>
<rect x="151" y="503.98" width="5.8" height="4.1" fill="#a8002a"/>
<rect x="151" y="514.39" width="2.7" height="4.1" fill="#a8002a"/>
<rect x="151" y="524.8" width="2.7" height="4.1" fill="#a8002a"/>
<rect x="151" y="535.21" width="4.7" height="4.1" fill="#a8002a"/>
<rect x="151" y="545.62" width="1.1" height="4.1" fill="#a8002a"/>
<rect x="151" y="556.03" width="2.7" height="4.1" fill="#a8002a"/>
<rect x="151" y="566.44" width="2.7" height="4.1" fill="#a8002a"/>
<rect x="151" y="587.26" width="2.9" height="4.1" fill="#a8002a"/>
<rect x="151" y="597.67" width="1" height="4.1" fill="#a8002a"/>
<rect x="151" y="608.08" width="2.9" height="4.1" fill="#a8002a"/>
<rect x="151" y="618.49" width="1" height="4.1" fill="#a8002a"/>
<rect x="151" y="639.31" width="2.9" height="4.1" fill="#a8002a"/>
<rect x="151" y="649.72" width="4.7" height="4.1" fill="#a8002a"/>
<rect x="151" y="691.36" width="2.9" height="4.1" fill="#a8002a"/>
<text x="151.6" y="709.07" font-size="6.4" text-anchor="middle" stroke="#111" stroke-width="0.2">0</text>
<line x1="151" y1="710.6" x2="151" y2="712.5" stroke="#111" stroke-width="0.8"/>
<text x="171.65" y="709.07" font-size="6.4" text-anchor="middle" stroke="#111" stroke-width="0.2">50</text>
<line x1="171.65" y1="710.6" x2="171.65" y2="712.5" stroke="#111" stroke-width="0.8"/>
<text x="192.3" y="709.07" font-size="6.4" text-anchor="middle" stroke="#111" stroke-width="0.2">100</text>
<line x1="192.3" y1="710.6" x2="192.3" y2="712.5" stroke="#111" stroke-width="0.8"/>
<line x1="151" y1="712.5" x2="195.2" y2="712.5" stroke="#111" stroke-width="1.1"/>
<line x1="151" y1="711.5" x2="151" y2="721.2" stroke="#111" stroke-width="1.1"/>
<rect x="151.5" y="713.2" width="9.5" height="6" fill="#2e4c84"/>
<line x1="203.2" y1="468.8" x2="247.7" y2="468.8" stroke="#111" stroke-width="1.1"/>
<line x1="203.2" y1="466.8" x2="203.2" y2="468.8" stroke="#111" stroke-width="0.8"/>
<text x="203.2" y="464.47" font-size="6.4" text-anchor="middle" stroke="#111" stroke-width="0.2">0</text>
<line x1="224.4" y1="466.8" x2="224.4" y2="468.8" stroke="#111" stroke-width="0.8"/>
<text x="224.4" y="464.47" font-size="6.4" text-anchor="middle" stroke="#111" stroke-width="0.2">20</text>
<line x1="245.6" y1="466.8" x2="245.6" y2="468.8" stroke="#111" stroke-width="0.8"/>
<text x="245.6" y="464.47" font-size="6.4" text-anchor="middle" stroke="#111" stroke-width="0.2">40</text>
<line x1="203.2" y1="468.8" x2="203.2" y2="699.5" stroke="#111" stroke-width="1.1"/>
<rect x="203.2" y="472.75" width="8.7" height="4.1" fill="#a8002a"/>
<rect x="203.2" y="483.16" width="3" height="4.1" fill="#a8002a"/>
<rect x="203.2" y="493.57" width="4.6" height="4.1" fill="#a8002a"/>
<rect x="203.2" y="503.98" width="5.5" height="4.1" fill="#a8002a"/>
<rect x="203.2" y="514.39" width="7.1" height="4.1" fill="#a8002a"/>
<rect x="203.2" y="524.8" width="5.5" height="4.1" fill="#a8002a"/>
<rect x="203.2" y="535.21" width="8.7" height="4.1" fill="#a8002a"/>
<rect x="203.2" y="545.62" width="3" height="4.1" fill="#a8002a"/>
<rect x="203.2" y="556.03" width="1" height="4.1" fill="#a8002a"/>
<rect x="203.2" y="566.44" width="1" height="4.1" fill="#a8002a"/>
<rect x="203.2" y="587.26" width="1" height="4.1" fill="#a8002a"/>
<rect x="203.2" y="608.08" width="4.4" height="4.1" fill="#a8002a"/>
<rect x="203.2" y="639.31" width="1" height="4.1" fill="#a8002a"/>
<rect x="203.2" y="649.72" width="4.4" height="4.1" fill="#a8002a"/>
<rect x="203.2" y="660.13" width="1" height="4.1" fill="#a8002a"/>
<rect x="203.2" y="680.95" width="3.2" height="4.1" fill="#a8002a"/>
<rect x="203.2" y="691.36" width="3.2" height="4.1" fill="#a8002a"/>
<text x="203.8" y="709.07" font-size="6.4" text-anchor="middle" stroke="#111" stroke-width="0.2">0</text>
<line x1="203.2" y1="710.6" x2="203.2" y2="712.5" stroke="#111" stroke-width="0.8"/>
<text x="223.85" y="709.07" font-size="6.4" text-anchor="middle" stroke="#111" stroke-width="0.2">50</text>
<line x1="223.85" y1="710.6" x2="223.85" y2="712.5" stroke="#111" stroke-width="0.8"/>
<text x="244.5" y="709.07" font-size="6.4" text-anchor="middle" stroke="#111" stroke-width="0.2">100</text>
<line x1="244.5" y1="710.6" x2="244.5" y2="712.5" stroke="#111" stroke-width="0.8"/>
<line x1="203.2" y1="712.5" x2="247.4" y2="712.5" stroke="#111" stroke-width="1.1"/>
<line x1="203.2" y1="711.5" x2="203.2" y2="721.2" stroke="#111" stroke-width="1.1"/>
<rect x="203.7" y="713.2" width="12" height="6" fill="#2e4c84"/>
<line x1="261.3" y1="468.8" x2="305.8" y2="468.8" stroke="#111" stroke-width="1.1"/>
<line x1="261.3" y1="466.8" x2="261.3" y2="468.8" stroke="#111" stroke-width="0.8"/>
<text x="261.3" y="464.47" font-size="6.4" text-anchor="middle" stroke="#111" stroke-width="0.2">0</text>
<line x1="282.5" y1="466.8" x2="282.5" y2="468.8" stroke="#111" stroke-width="0.8"/>
<text x="282.5" y="464.47" font-size="6.4" text-anchor="middle" stroke="#111" stroke-width="0.2">20</text>
<line x1="303.7" y1="466.8" x2="303.7" y2="468.8" stroke="#111" stroke-width="0.8"/>
<text x="303.7" y="464.47" font-size="6.4" text-anchor="middle" stroke="#111" stroke-width="0.2">40</text>
<line x1="261.3" y1="468.8" x2="261.3" y2="699.5" stroke="#111" stroke-width="1.1"/>
<rect x="261.3" y="472.75" width="13.4" height="4.1" fill="#a8002a"/>
<rect x="261.3" y="483.16" width="9" height="4.1" fill="#a8002a"/>
<rect x="261.3" y="493.57" width="9" height="4.1" fill="#a8002a"/>
<rect x="261.3" y="503.98" width="9" height="4.1" fill="#a8002a"/>
<rect x="261.3" y="514.39" width="22.6" height="4.1" fill="#a8002a"/>
<rect x="261.3" y="524.8" width="4.8" height="4.1" fill="#a8002a"/>
<rect x="261.3" y="535.21" width="4.8" height="4.1" fill="#a8002a"/>
<rect x="261.3" y="545.62" width="22.6" height="4.1" fill="#a8002a"/>
<rect x="261.3" y="597.67" width="4.8" height="4.1" fill="#a8002a"/>
<rect x="261.3" y="649.72" width="13" height="4.1" fill="#a8002a"/>
<rect x="261.3" y="660.13" width="4.8" height="4.1" fill="#a8002a"/>
<rect x="261.3" y="670.54" width="4.8" height="4.1" fill="#a8002a"/>
<rect x="261.3" y="680.95" width="4.8" height="4.1" fill="#a8002a"/>
<text x="261.9" y="709.07" font-size="6.4" text-anchor="middle" stroke="#111" stroke-width="0.2">0</text>
<line x1="261.3" y1="710.6" x2="261.3" y2="712.5" stroke="#111" stroke-width="0.8"/>
<text x="281.95" y="709.07" font-size="6.4" text-anchor="middle" stroke="#111" stroke-width="0.2">50</text>
<line x1="281.95" y1="710.6" x2="281.95" y2="712.5" stroke="#111" stroke-width="0.8"/>
<text x="302.6" y="709.07" font-size="6.4" text-anchor="middle" stroke="#111" stroke-width="0.2">100</text>
<line x1="302.6" y1="710.6" x2="302.6" y2="712.5" stroke="#111" stroke-width="0.8"/>
<line x1="261.3" y1="712.5" x2="305.5" y2="712.5" stroke="#111" stroke-width="1.1"/>
<line x1="261.3" y1="711.5" x2="261.3" y2="721.2" stroke="#111" stroke-width="1.1"/>
<rect x="261.8" y="713.2" width="7.3" height="6" fill="#2e4c84"/>
<line x1="313.5" y1="468.8" x2="358" y2="468.8" stroke="#111" stroke-width="1.1"/>
<line x1="313.5" y1="466.8" x2="313.5" y2="468.8" stroke="#111" stroke-width="0.8"/>
<text x="313.5" y="464.47" font-size="6.4" text-anchor="middle" stroke="#111" stroke-width="0.2">0</text>
<line x1="334.7" y1="466.8" x2="334.7" y2="468.8" stroke="#111" stroke-width="0.8"/>
<text x="334.7" y="464.47" font-size="6.4" text-anchor="middle" stroke="#111" stroke-width="0.2">20</text>
<line x1="355.9" y1="466.8" x2="355.9" y2="468.8" stroke="#111" stroke-width="0.8"/>
<text x="355.9" y="464.47" font-size="6.4" text-anchor="middle" stroke="#111" stroke-width="0.2">40</text>
<line x1="313.5" y1="468.8" x2="313.5" y2="699.5" stroke="#111" stroke-width="1.1"/>
<rect x="313.5" y="472.75" width="14.7" height="4.1" fill="#a8002a"/>
<rect x="313.5" y="483.16" width="7.1" height="4.1" fill="#a8002a"/>
<rect x="313.5" y="493.57" width="7.1" height="4.1" fill="#a8002a"/>
<rect x="313.5" y="503.98" width="10.6" height="4.1" fill="#a8002a"/>
<rect x="313.5" y="514.39" width="10.6" height="4.1" fill="#a8002a"/>
<rect x="313.5" y="524.8" width="7.1" height="4.1" fill="#a8002a"/>
<rect x="313.5" y="535.21" width="3.2" height="4.1" fill="#a8002a"/>
<rect x="313.5" y="545.62" width="7.1" height="4.1" fill="#a8002a"/>
<rect x="313.5" y="556.03" width="14.7" height="4.1" fill="#a8002a"/>
<rect x="313.5" y="566.44" width="7.1" height="4.1" fill="#a8002a"/>
<rect x="313.5" y="587.26" width="10.9" height="4.1" fill="#a8002a"/>
<rect x="313.5" y="597.67" width="3.4" height="4.1" fill="#a8002a"/>
<rect x="313.5" y="628.9" width="3.4" height="4.1" fill="#a8002a"/>
<rect x="313.5" y="639.31" width="7.4" height="4.1" fill="#a8002a"/>
<rect x="313.5" y="649.72" width="3.4" height="4.1" fill="#a8002a"/>
<rect x="313.5" y="680.95" width="3.4" height="4.1" fill="#a8002a"/>
<text x="314.1" y="709.07" font-size="6.4" text-anchor="middle" stroke="#111" stroke-width="0.2">0</text>
<line x1="313.5" y1="710.6" x2="313.5" y2="712.5" stroke="#111" stroke-width="0.8"/>
<text x="334.15" y="709.07" font-size="6.4" text-anchor="middle" stroke="#111" stroke-width="0.2">50</text>
<line x1="334.15" y1="710.6" x2="334.15" y2="712.5" stroke="#111" stroke-width="0.8"/>
<text x="354.8" y="709.07" font-size="6.4" text-anchor="middle" stroke="#111" stroke-width="0.2">100</text>
<line x1="354.8" y1="710.6" x2="354.8" y2="712.5" stroke="#111" stroke-width="0.8"/>
<line x1="313.5" y1="712.5" x2="357.7" y2="712.5" stroke="#111" stroke-width="1.1"/>
<line x1="313.5" y1="711.5" x2="313.5" y2="721.2" stroke="#111" stroke-width="1.1"/>
<rect x="314" y="713.2" width="4.8" height="6" fill="#2e4c84"/>
<line x1="380.2" y1="468.8" x2="424.7" y2="468.8" stroke="#111" stroke-width="1.1"/>
<line x1="380.2" y1="466.8" x2="380.2" y2="468.8" stroke="#111" stroke-width="0.8"/>
<text x="380.2" y="464.47" font-size="6.4" text-anchor="middle" stroke="#111" stroke-width="0.2">0</text>
<line x1="401.4" y1="466.8" x2="401.4" y2="468.8" stroke="#111" stroke-width="0.8"/>
<text x="401.4" y="464.47" font-size="6.4" text-anchor="middle" stroke="#111" stroke-width="0.2">20</text>
<line x1="422.6" y1="466.8" x2="422.6" y2="468.8" stroke="#111" stroke-width="0.8"/>
<text x="422.6" y="464.47" font-size="6.4" text-anchor="middle" stroke="#111" stroke-width="0.2">40</text>
<line x1="380.2" y1="468.8" x2="380.2" y2="699.5" stroke="#111" stroke-width="1.1"/>
<rect x="380.2" y="472.75" width="37.5" height="4.1" fill="#a8002a"/>
<rect x="380.2" y="483.16" width="20.9" height="4.1" fill="#a8002a"/>
<rect x="380.2" y="493.57" width="20.1" height="4.1" fill="#a8002a"/>
<rect x="380.2" y="503.98" width="15" height="4.1" fill="#a8002a"/>
<rect x="380.2" y="514.39" width="12.5" height="4.1" fill="#a8002a"/>
<rect x="380.2" y="524.8" width="13.3" height="4.1" fill="#a8002a"/>
<rect x="380.2" y="535.21" width="9.3" height="4.1" fill="#a8002a"/>
<rect x="380.2" y="545.62" width="7.4" height="4.1" fill="#a8002a"/>
<rect x="380.2" y="556.03" width="7.4" height="4.1" fill="#a8002a"/>
<rect x="380.2" y="566.44" width="7.4" height="4.1" fill="#a8002a"/>
<rect x="380.2" y="576.85" width="7.4" height="4.1" fill="#a8002a"/>
<rect x="380.2" y="587.26" width="6" height="4.1" fill="#a8002a"/>
<rect x="380.2" y="597.67" width="6" height="4.1" fill="#a8002a"/>
<rect x="380.2" y="608.08" width="3.7" height="4.1" fill="#a8002a"/>
<rect x="380.2" y="618.49" width="3.7" height="4.1" fill="#a8002a"/>
<rect x="380.2" y="628.9" width="4.1" height="4.1" fill="#a8002a"/>
<rect x="380.2" y="639.31" width="3.7" height="4.1" fill="#a8002a"/>
<rect x="380.2" y="649.72" width="3.2" height="4.1" fill="#a8002a"/>
<rect x="380.2" y="660.13" width="3.2" height="4.1" fill="#a8002a"/>
<rect x="380.2" y="670.54" width="3.2" height="4.1" fill="#a8002a"/>
<rect x="380.2" y="680.95" width="2.8" height="4.1" fill="#a8002a"/>
<rect x="380.2" y="691.36" width="2.8" height="4.1" fill="#a8002a"/>
<text x="380.8" y="709.07" font-size="6.4" text-anchor="middle" stroke="#111" stroke-width="0.2">0</text>
<line x1="380.2" y1="710.6" x2="380.2" y2="712.5" stroke="#111" stroke-width="0.8"/>
<text x="400.85" y="709.07" font-size="6.4" text-anchor="middle" stroke="#111" stroke-width="0.2">50</text>
<line x1="400.85" y1="710.6" x2="400.85" y2="712.5" stroke="#111" stroke-width="0.8"/>
<text x="421.5" y="709.07" font-size="6.4" text-anchor="middle" stroke="#111" stroke-width="0.2">100</text>
<line x1="421.5" y1="710.6" x2="421.5" y2="712.5" stroke="#111" stroke-width="0.8"/>
<line x1="380.2" y1="712.5" x2="424.4" y2="712.5" stroke="#111" stroke-width="1.1"/>
<line x1="380.2" y1="711.5" x2="380.2" y2="721.2" stroke="#111" stroke-width="1.1"/>
<text x="93.2" y="718.51" font-size="6.5" text-anchor="end" stroke="#111" stroke-width="0.2">% of PNH cells</text>
</g>
<rect x="0.5" y="0.5" width="519" height="727" fill="none" stroke="#000" stroke-width="1"/>
<rect x="1.5" y="1.5" width="517" height="725" fill="none" stroke="#999" stroke-width="1"/>
<line x1="1" y1="726.5" x2="519" y2="726.5" stroke="#222" stroke-width="1"/>
</svg>
</div></body></html>
